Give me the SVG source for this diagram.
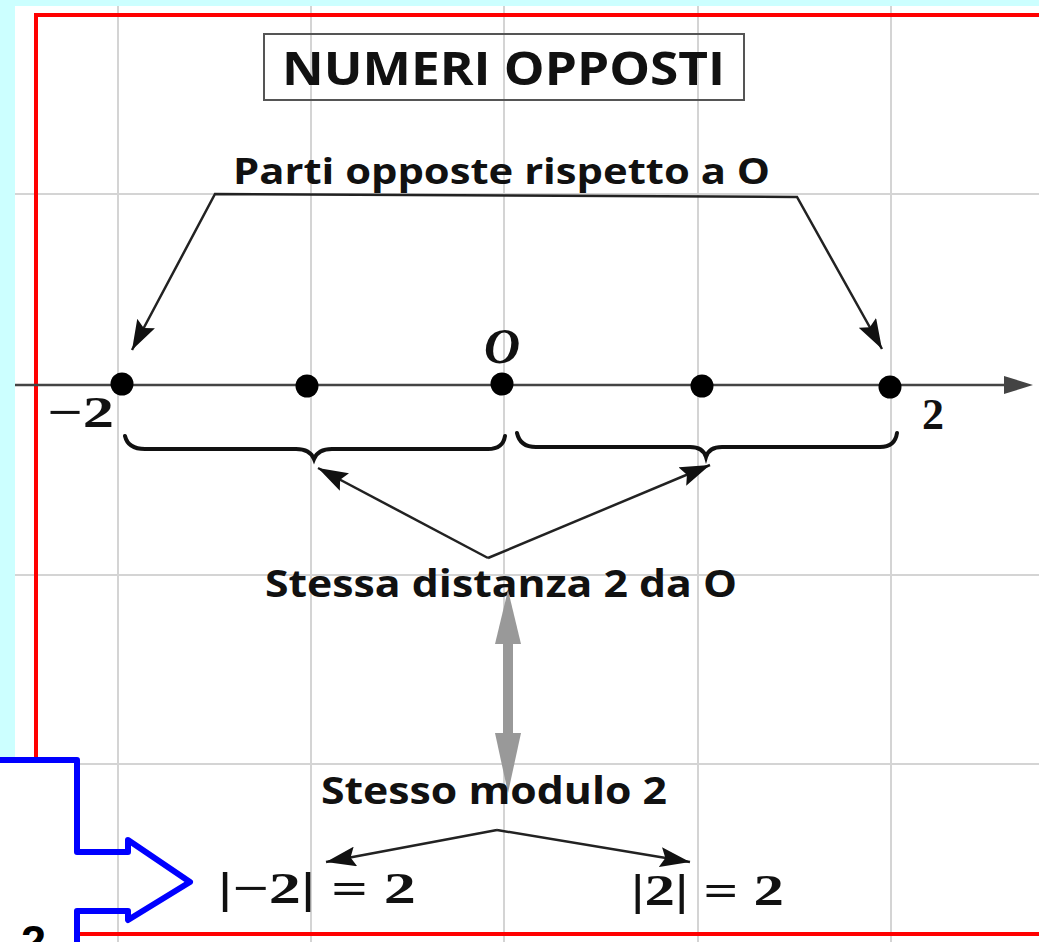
<svg xmlns="http://www.w3.org/2000/svg" width="1039" height="942" viewBox="0 0 1039 942">
<style>
.grid{stroke:#d4d4d4;stroke-width:2;fill:none}
.red{stroke:#ff0000;stroke-width:4;fill:none}
.conn{stroke:#222;stroke-width:2.5;fill:none}
.lbl{font-family:"Open Sans","DejaVu Sans",sans-serif;font-weight:bold;fill:#111}
.math{font-family:"Liberation Serif","DejaVu Serif",serif;font-weight:bold;fill:#111}
.dot{fill:#000}
</style>
<defs>
<marker id="ah" viewBox="0 0 30 20" refX="30" refY="10" markerWidth="30" markerHeight="20" markerUnits="userSpaceOnUse" orient="auto-start-reverse">
<path d="M0,0 L30,10 L0,20 L5,10 z" fill="#111"/>
</marker>
</defs>
<rect x="0" y="0" width="1039" height="942" fill="#ffffff"/>
<rect x="0" y="0" width="1039" height="6" fill="#ccffff"/>
<rect x="0" y="0" width="15" height="760" fill="#ccffff"/>
<g id="grid">
<line class="grid" x1="118" y1="6" x2="118" y2="942"/>
<line class="grid" x1="311" y1="6" x2="311" y2="942"/>
<line class="grid" x1="504" y1="6" x2="504" y2="942"/>
<line class="grid" x1="698" y1="6" x2="698" y2="942"/>
<line class="grid" x1="891" y1="6" x2="891" y2="942"/>
<line class="grid" x1="15" y1="194" x2="1039" y2="194"/>
<line class="grid" x1="15" y1="575" x2="1039" y2="575"/>
<line class="grid" x1="77" y1="764" x2="1039" y2="764"/>
</g>
<g id="frame">
<line class="red" x1="36" y1="13" x2="36" y2="760"/>
<line class="red" x1="34" y1="15" x2="1039" y2="15"/>
<line class="red" x1="80" y1="934" x2="1039" y2="934"/>
</g>
<g id="title">
<rect x="264" y="34" width="480" height="66" fill="none" stroke="#555" stroke-width="2"/>
<text class="lbl" x="282" y="85" font-size="46" font-weight="600" textLength="443" lengthAdjust="spacingAndGlyphs">NUMERI OPPOSTI</text>
</g>
<g id="axis">
<line x1="15" y1="385" x2="1008" y2="385" stroke="#444" stroke-width="2.5"/>
<path d="M1004,376 L1033,385 L1004,394 z" fill="#444"/>
</g>
<g id="points">
<circle class="dot" cx="122" cy="384" r="11.5"/>
<circle class="dot" cx="307" cy="386" r="11.5"/>
<circle class="dot" cx="502" cy="384" r="11.5"/>
<circle class="dot" cx="702" cy="386" r="11.5"/>
<circle class="dot" cx="890" cy="387" r="11.5"/>
</g>
<g id="point-labels">
<text class="math" x="47" y="427" font-size="44" textLength="67" lengthAdjust="spacingAndGlyphs">−2</text>
<text class="math" x="922" y="429" font-size="44">2</text>
<text class="math" x="484" y="363" font-size="50" font-style="italic">O</text>
</g>
<g id="braces" fill="none" stroke="#111" stroke-width="4" stroke-linecap="round">
<path d="M125,436 Q128,449 145,449 L296,449 Q310,449 314,459 Q318,449 332,449 L488,449 Q503,449 505,436"/>
<path d="M517,433 Q520,447 536,447 L690,447 Q703,447 706,457 Q709,447 722,447 L880,447 Q895,447 897,433"/>
</g>
<g id="label-parti">
<text class="lbl" x="233" y="184" font-size="36" textLength="537" lengthAdjust="spacingAndGlyphs">Parti opposte rispetto a O</text>
</g>
<g id="label-distanza">
<text class="lbl" x="265" y="597" font-size="37" textLength="472" lengthAdjust="spacingAndGlyphs">Stessa distanza 2 da O</text>
</g>
<g id="double-arrow" fill="#999">
<rect x="503" y="640" width="10" height="95"/>
<path d="M508,590 L495,644 L521,644 z"/>
<path d="M508,793 L495,733 L521,733 z"/>
</g>
<g id="label-modulo">
<text class="lbl" x="321" y="804" font-size="37" textLength="346" lengthAdjust="spacingAndGlyphs">Stesso modulo 2</text>
</g>
<g id="abs-labels">
<text class="math" x="218" y="903" font-size="44" textLength="198" lengthAdjust="spacingAndGlyphs">|−2| = 2</text>
<text class="math" x="631" y="905" font-size="44" textLength="153" lengthAdjust="spacingAndGlyphs">|2| = 2</text>
</g>
<g id="connectors">
<polyline class="conn" points="132,350 215,194 797,197 882,349" marker-start="url(#ah)" marker-end="url(#ah)"/>
<line class="conn" x1="488" y1="558" x2="318" y2="468" marker-end="url(#ah)"/>
<line class="conn" x1="488" y1="558" x2="710" y2="465" marker-end="url(#ah)"/>
<line class="conn" x1="497" y1="830" x2="326" y2="862" marker-end="url(#ah)"/>
<line class="conn" x1="497" y1="830" x2="690" y2="862" marker-end="url(#ah)"/>
</g>
<g id="blue-arrow">
<path d="M-5,760 L77,760 L77,852 L128,852 L128,840 L190,882 L128,920 L128,911 L77,911 L77,950" fill="none" stroke="#0000ff" stroke-width="6" stroke-linejoin="round"/>
<text x="21" y="957" font-family="Liberation Sans, Arial, sans-serif" font-weight="bold" font-size="45" fill="#000">2</text>
</g>
</svg>
